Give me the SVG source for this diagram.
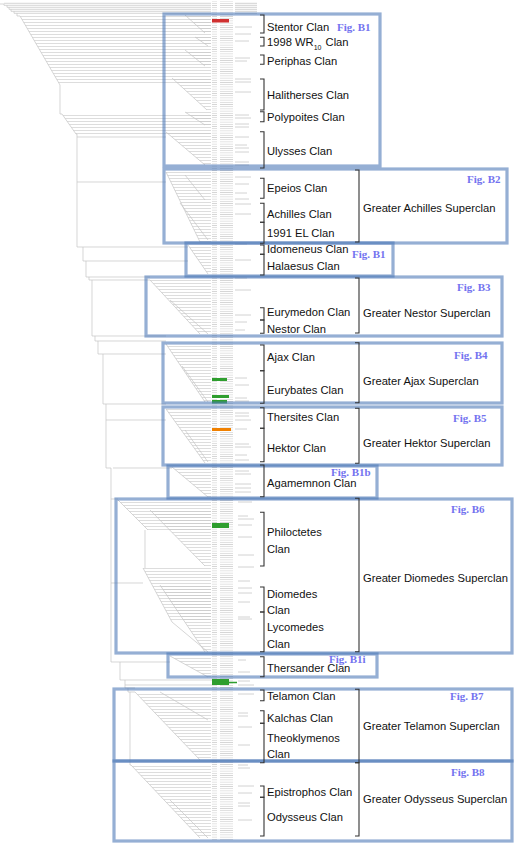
<svg xmlns="http://www.w3.org/2000/svg" width="517" height="862" viewBox="0 0 517 862">
<defs>
<pattern id="hl" patternUnits="userSpaceOnUse" width="8" height="3"><line x1="0" y1="1.5" x2="8" y2="1.5" stroke="#c6c6c6" stroke-width="0.6"/></pattern>
<pattern id="lv" patternUnits="userSpaceOnUse" width="22" height="2.2"><line x1="0" y1="1.1" x2="19" y2="1.1" stroke="#d6d6d6" stroke-width="0.8"/></pattern>
</defs>
<style>
.br{fill:none;stroke:#c4c4c4;stroke-width:0.7}
.cb{fill:url(#hl)}
.bx{fill:none;stroke:#4f7ab8;stroke-opacity:0.6;stroke-width:3.2}
.bk{fill:none;stroke:#333;stroke-width:1.1}
.cl{font-family:"Liberation Sans",Arial,sans-serif;font-size:11.2px;fill:#111}
.fg{font-family:"Liberation Serif","Times New Roman",serif;font-size:11px;font-weight:bold;fill:#7373ef}
.an{fill:none;stroke:#d2d2d2;stroke-width:1}
</style>
<rect width="517" height="862" fill="#fff"/>
<g id="connectors">
<g id="combs">
<polygon class="cb" points="20,16 211,16 211,85 60,85"/>
<polygon class="cb" points="62,114 211,114 211,134 76,134"/>
<polygon class="cb" points="185,15 211,15 211,33 205,33"/>
<polygon class="cb" points="195,37 211,37 211,46 208,46"/>
<polygon class="cb" points="185,50 211,50 211,66 205,66"/>
<polygon class="cb" points="172,78 211,78 211,110 207,110"/>
<polygon class="cb" points="185,112 211,112 211,125 205,125"/>
<polygon class="cb" points="166,132 211,132 211,165 205,165"/>
<polygon class="cb" points="166,172 211,172 211,242 200,242"/>
<polygon class="cb" points="188,245 211,245 211,274 208,274"/>
<polygon class="cb" points="150,280 211,280 211,334 200,334"/>
<polygon class="cb" points="166,344 211,344 211,402 205,402"/>
<polygon class="cb" points="166,409 211,409 211,463 205,463"/>
<polygon class="cb" points="172,467 211,467 211,497 208,497"/>
<polygon class="cb" points="118,500 211,500 211,530 148,530"/>
<polygon class="cb" points="150,510 211,510 211,566 205,566"/>
<polygon class="cb" points="143,568 211,568 211,622 172,622"/>
<polygon class="cb" points="160,585 211,585 211,652 205,652"/>
<polygon class="cb" points="170,656 211,656 211,677 208,677"/>
<polygon class="cb" points="135,692 211,692 211,760 200,760"/>
<polygon class="cb" points="131,765 211,765 211,838 200,838"/>
</g>
<path class="br" d="M0,4 H4 V5.3 H7 V7.3 H9 V9.3 H11 V11.3 H14 V13.3 H17 V16 H20 M4,3.3 H211 M7,5.3 H211 M9,7.3 H211 M11,9.3 H211 M14,11.3 H211 M17,13.3 H211"/>
<path class="br" d="M20,16 L60,85 M62,114 L76,134 M185,15 L205,33 M195,37 L208,46 M185,50 L205,66 M172,78 L207,110 M185,112 L205,125 M166,132 L205,165 M166,172 L200,242 M185,175 L205,200 M180,203 L208,240 M188,245 L208,274 M150,280 L200,334 M170,300 L208,334 M166,344 L205,402 M182,366 L208,402 M166,409 L205,463 M185,430 L208,462 M172,467 L208,497 M118,500 L148,530 M150,510 L205,566 M143,568 L172,622 M160,585 L205,652 M172,622 L208,652 M170,656 L208,677 M135,692 L200,760 M160,692 L208,720 M131,765 L200,838 M170,800 L208,838"/>
<path class="br" d="M60,85 V114 H62 M76,134 H77 V247 H83 V261 H86 V277 H89 V280 H92 V336 H95 V341 H98 V354 H103 V404 H106 V420 H110 M106,420 V468 H111 V662 H120 V680 H125 V688 H128 V692 H130 V765 H131 M145,530 V568"/>
<path class="br" d="M77,137 H166 M77,182 H166 M83,247 H188 M86,261 H188 M89,277 H150 M92,280 H150 M95,336 H166 M98,341 H166 M103,354 H166 M106,404 H166 M110,420 H166 M113,468 H172 M111,499 H118 M111,583 H143 M120,662 H170 M125,680 H212 M125,685 H212 M128,688 H135 M130,692 H135"/>
</g>
<g id="leaves">
<rect x="212" y="1" width="21" height="840" fill="url(#lv)"/>
<path class="an" d="M235,3.3 h22 M235,5.3 h22 M235,7.3 h22 M235,9.3 h22 M235,11.3 h22 M235,13.3 h22 M235,27 h17 M235,34 h16 M235,41 h14 M235,58 h15 M235,61 h12 M235,79 h16 M235,82 h16 M235,92 h16 M235,115 h14 M235,118 h16 M235,124 h14 M235,127 h14 M235,137 h14 M235,145 h12 M235,148 h14 M235,152 h14 M235,162 h14 M235,165 h14 M235,177 h16 M235,184 h14 M235,193 h12 M235,199 h14 M235,204 h16 M235,214 h16 M235,244 h12 M235,260 h16 M235,278 h12 M235,290 h16 M235,315 h16 M235,322 h12 M235,330 h10 M235,378 h12 M235,385 h14 M235,398 h12 M235,401 h14 M235,413 h14 M235,416 h14 M235,420 h16 M235,429 h12 M235,444 h14 M235,447 h16 M235,455 h12 M235,460 h14 M235,471 h14 M235,474 h16 M235,484 h16 M235,488 h16 M235,492 h16 M238,502 h14 M238,516 h10 M238,519 h16 M238,525 h14 M238,537 h14 M238,555 h16 M238,567 h16 M238,581 h12 M238,588 h14 M238,593 h14 M238,602 h12 M238,617 h12 M238,619 h14 M238,660 h8 M238,672 h12 M238,681 h12 M238,685 h16 M238,694 h16 M238,713 h10 M238,716 h10 M238,727 h14 M238,745 h12 M238,765 h10 M238,768 h12 M238,786 h16 M238,793 h14 M238,803 h12 M238,806 h12 M238,820 h14"/>
<rect x="212" y="19" width="17" height="3.5" fill="#d03030"/>
<rect x="212" y="378" width="15" height="3" fill="#2e9e2e"/>
<rect x="212" y="395" width="17" height="3" fill="#2e9e2e"/>
<rect x="212" y="400" width="15" height="3.5" fill="#2e9e2e"/>
<rect x="212" y="428" width="19" height="3" fill="#f08000"/>
<rect x="212" y="523" width="17" height="5" fill="#2e9e2e"/>
<rect x="212" y="679" width="17" height="6" fill="#2e9e2e"/>
<line x1="229" y1="682.5" x2="237" y2="682.5" stroke="#2e9e2e" stroke-width="1.5"/>
</g>
<g id="fig-b1-top"><rect class="bx" x="164" y="14" width="216" height="152"/><text class="fg" x="337" y="31">Fig. B1</text></g>
<g id="fig-b2"><rect class="bx" x="164" y="169" width="343" height="74"/><text class="fg" x="467" y="183">Fig. B2</text></g>
<g id="fig-b1-mid"><rect class="bx" x="186" y="243" width="207" height="33"/><text class="fg" x="352" y="258">Fig. B1</text></g>
<g id="fig-b3"><rect class="bx" x="146" y="277" width="356" height="59"/><text class="fg" x="457" y="291">Fig. B3</text></g>
<g id="fig-b4"><rect class="bx" x="163" y="343" width="339" height="60"/><text class="fg" x="454" y="359">Fig. B4</text></g>
<g id="fig-b5"><rect class="bx" x="163" y="407" width="339" height="58"/><text class="fg" x="453" y="422">Fig. B5</text></g>
<g id="fig-b1b"><rect class="bx" x="168" y="466" width="209" height="32"/><text class="fg" x="331" y="476">Fig. B1b</text></g>
<g id="fig-b6"><rect class="bx" x="116" y="499" width="396" height="154"/><text class="fg" x="451" y="513">Fig. B6</text></g>
<g id="fig-b1i"><rect class="bx" x="168" y="654" width="209" height="23"/><text class="fg" x="329" y="662.5">Fig. B1i</text></g>
<g id="fig-b7"><rect class="bx" x="114" y="689" width="398" height="72"/><text class="fg" x="450" y="700">Fig. B7</text></g>
<g id="fig-b8"><rect class="bx" x="114" y="761" width="398" height="80"/><text class="fg" x="451" y="776">Fig. B8</text></g>
<g id="stentor"><path class="bk" d="M260,15 H264 V33 H260"/><text class="cl" x="267" y="30.7">Stentor Clan</text></g>
<g id="wr10"><path class="bk" d="M260,37.3 H264 V46 H260"/><text class="cl" x="267" y="46">1998 WR<tspan font-size="7" dy="4">10</tspan><tspan dy="-4" dx="1"> Clan</tspan></text></g>
<g id="periphas"><path class="bk" d="M260,55 H264 V64.3 H260"/><text class="cl" x="267" y="64.5">Periphas Clan</text></g>
<g id="halitherses"><path class="bk" d="M260,79 H264 V110 H260"/><text class="cl" x="267" y="99.3">Halitherses Clan</text></g>
<g id="polypoites"><path class="bk" d="M260,111.7 H264 V121.7 H260"/><text class="cl" x="267" y="120.7">Polypoites Clan</text></g>
<g id="ulysses"><path class="bk" d="M260,131.7 H264 V168 H260"/><text class="cl" x="267" y="154.7">Ulysses Clan</text></g>
<g id="epeios"><path class="bk" d="M260,178.3 H264 V198.3 H260"/><text class="cl" x="267" y="192.3">Epeios Clan</text></g>
<g id="achilles"><path class="bk" d="M260,203.3 H264 V222.3 H260"/><text class="cl" x="267" y="217.7">Achilles Clan</text></g>
<g id="el1991"><path class="bk" d="M260,222.3 H264 V243.3 H260"/><text class="cl" x="267" y="236.5">1991 EL Clan</text></g>
<g id="greater-achilles"><path class="bk" d="M355,170 H359 V242 H355"/><text class="cl" x="363" y="211.5">Greater Achilles Superclan</text></g>
<g id="idomeneus"><path class="bk" d="M260,245 H264 V254.3 H260"/><text class="cl" x="267" y="253.3">Idomeneus Clan</text></g>
<g id="halaesus"><path class="bk" d="M260,254.3 H264 V275 H260"/><text class="cl" x="267" y="270">Halaesus Clan</text></g>
<g id="eurymedon"><path class="bk" d="M260,307.7 H264 V320 H260"/><text class="cl" x="267" y="316.3">Eurymedon Clan</text></g>
<g id="nestor"><path class="bk" d="M260,320 H264 V333.3 H260"/><text class="cl" x="267" y="333.3">Nestor Clan</text></g>
<g id="greater-nestor"><path class="bk" d="M355,278 H359 V333 H355"/><text class="cl" x="363" y="317">Greater Nestor Superclan</text></g>
<g id="ajax"><path class="bk" d="M260,345 H264 V370.7 H260"/><text class="cl" x="267" y="361.3">Ajax Clan</text></g>
<g id="eurybates"><path class="bk" d="M260,370.7 H264 V403.3 H260"/><text class="cl" x="267" y="393.7">Eurybates Clan</text></g>
<g id="greater-ajax"><path class="bk" d="M355,342.7 H359 V402.7 H355"/><text class="cl" x="363" y="384.7">Greater Ajax Superclan</text></g>
<g id="thersites"><path class="bk" d="M260,407.7 H264 V428.3 H260"/><text class="cl" x="267" y="421">Thersites Clan</text></g>
<g id="hektor"><path class="bk" d="M260,428.3 H264 V461.7 H260"/><text class="cl" x="267" y="451.7">Hektor Clan</text></g>
<g id="greater-hektor"><path class="bk" d="M355,408.3 H359 V463.3 H355"/><text class="cl" x="363" y="447.3">Greater Hektor Superclan</text></g>
<g id="agamemnon"><path class="bk" d="M260,465 H264 V496.7 H260"/><text class="cl" x="267" y="486.5">Agamemnon Clan</text></g>
<g id="philoctetes"><path class="bk" d="M260,512.3 H264 V566 H260"/><text class="cl" x="267" y="536.3">Philoctetes</text><text class="cl" x="267" y="553.3">Clan</text></g>
<g id="diomedes"><path class="bk" d="M260,587 H264 V612 H260"/><text class="cl" x="267" y="597.7">Diomedes</text><text class="cl" x="267" y="613.7">Clan</text></g>
<g id="lycomedes"><path class="bk" d="M260,612 H264 V651.7 H260"/><text class="cl" x="267" y="631.3">Lycomedes</text><text class="cl" x="267" y="647.7">Clan</text></g>
<g id="greater-diomedes"><path class="bk" d="M355,498.3 H359 V651.7 H355"/><text class="cl" x="363" y="581.5">Greater Diomedes Superclan</text></g>
<g id="thersander"><path class="bk" d="M260,656.7 H264 V676.7 H260"/><text class="cl" x="267" y="672">Thersander Clan</text></g>
<g id="telamon"><path class="bk" d="M260,690 H264 V700.7 H260"/><text class="cl" x="267" y="700">Telamon Clan</text></g>
<g id="kalchas"><path class="bk" d="M260,710.7 H264 V723.3 H260"/><text class="cl" x="267" y="722">Kalchas Clan</text></g>
<g id="theoklymenos"><path class="bk" d="M260,723.3 H264 V762.7 H260"/><text class="cl" x="267" y="742">Theoklymenos</text><text class="cl" x="267" y="758.3">Clan</text></g>
<g id="greater-telamon"><path class="bk" d="M355,689.3 H359 V762.7 H355"/><text class="cl" x="363" y="729.7">Greater Telamon Superclan</text></g>
<g id="epistrophos"><path class="bk" d="M260,786 H264 V797.3 H260"/><text class="cl" x="267" y="796.3">Epistrophos Clan</text></g>
<g id="odysseus"><path class="bk" d="M260,797.3 H264 V836 H260"/><text class="cl" x="267" y="821.3">Odysseus Clan</text></g>
<g id="greater-odysseus"><path class="bk" d="M355,762.7 H359 V836 H355"/><text class="cl" x="363" y="803">Greater Odysseus Superclan</text></g>
</svg>
